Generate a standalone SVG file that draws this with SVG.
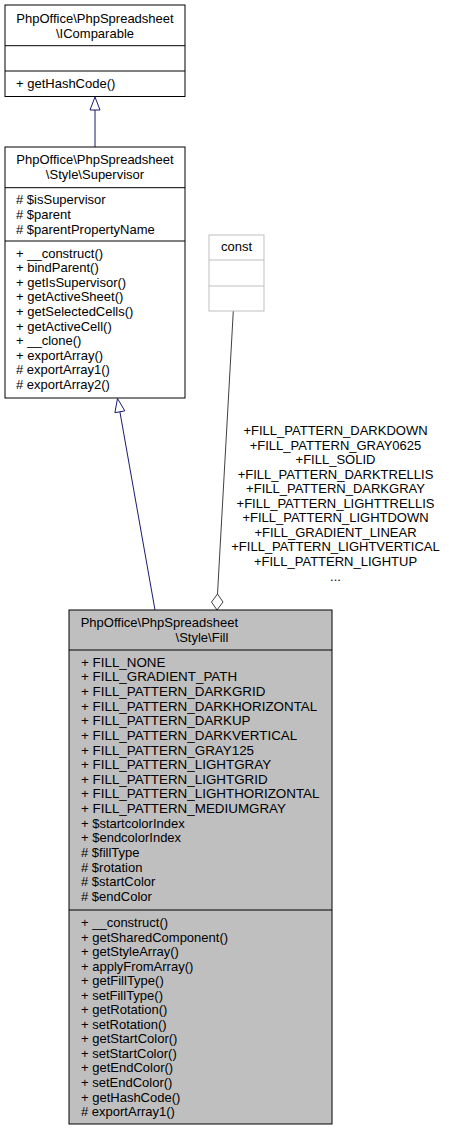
<svg xmlns="http://www.w3.org/2000/svg" width="449" height="1132" viewBox="0 0 449 1132">
<style>
text{font-family:"Liberation Sans",Arial,sans-serif;font-size:13px;fill:#000}
text.caps{font-size:13.4px}
.box{fill:#fff;stroke:#000;stroke-width:1}
.sep{stroke:#000;stroke-width:1}
.cbox{fill:#fff;stroke:#bfbfbf;stroke-width:1}
.csep{stroke:#bfbfbf;stroke-width:1}
.mid{text-anchor:middle}
.inh{stroke:#191970;stroke-width:1;fill:none}
.inhh{stroke:#191970;stroke-width:1;fill:#fff}
.agg{stroke:#404040;stroke-width:1;fill:none}
.aggh{stroke:#404040;stroke-width:1;fill:#fff}
</style>
<rect width="449" height="1132" fill="#fff"/>
<g id="connectors">
<line class="inh" x1="95" y1="147" x2="95" y2="110"/>
<polygon class="inhh" points="95,97 90,110 100,110"/>
<line class="inh" x1="155" y1="610" x2="119.9" y2="411.8"/>
<polygon class="inhh" points="117.5,398.5 124.8,410.9 114.9,412.7"/>
<line class="agg" x1="233.3" y1="311" x2="217.5" y2="594"/>
<polygon class="aggh" points="217.5,594 223,602 217,610 211.5,602"/>
<g id="edge-label">
<text class="mid" x="335.5" y="435">+FILL_PATTERN_DARKDOWN</text>
<text class="mid" x="335.5" y="449.55">+FILL_PATTERN_GRAY0625</text>
<text class="mid" x="335.5" y="464.1">+FILL_SOLID</text>
<text class="mid" x="335.5" y="478.65">+FILL_PATTERN_DARKTRELLIS</text>
<text class="mid" x="335.5" y="493.2">+FILL_PATTERN_DARKGRAY</text>
<text class="mid" x="335.5" y="507.75">+FILL_PATTERN_LIGHTTRELLIS</text>
<text class="mid" x="335.5" y="522.3">+FILL_PATTERN_LIGHTDOWN</text>
<text class="mid" x="335.5" y="536.85">+FILL_GRADIENT_LINEAR</text>
<text class="mid" x="335.5" y="551.4">+FILL_PATTERN_LIGHTVERTICAL</text>
<text class="mid" x="335.5" y="565.95">+FILL_PATTERN_LIGHTUP</text>
<text class="mid" x="335.5" y="580.5">...</text>
</g>
</g>
<g id="IComparable">
<rect class="box" x="5" y="5" width="180" height="91.5"/>
<line class="sep" x1="5" y1="45.7" x2="185" y2="45.7"/>
<line class="sep" x1="5" y1="71" x2="185" y2="71"/>
<text class="mid" x="95" y="23.3">PhpOffice\PhpSpreadsheet</text>
<text class="mid" x="95" y="38.3">\IComparable</text>
<text x="16" y="88">+ getHashCode()</text>
</g>
<g id="Supervisor">
<rect class="box" x="5" y="147" width="180" height="251"/>
<line class="sep" x1="5" y1="187.7" x2="185" y2="187.7"/>
<line class="sep" x1="5" y1="241" x2="185" y2="241"/>
<text class="mid" x="95" y="164.3">PhpOffice\PhpSpreadsheet</text>
<text class="mid" x="95" y="179.3">\Style\Supervisor</text>
<text x="16" y="204.3"># $isSupervisor</text>
<text x="16" y="218.9"># $parent</text>
<text x="16" y="233.5"># $parentPropertyName</text>
<text x="16" y="257.6">+ __construct()</text>
<text x="16" y="272.2">+ bindParent()</text>
<text x="16" y="286.8">+ getIsSupervisor()</text>
<text x="16" y="301.4">+ getActiveSheet()</text>
<text x="16" y="316">+ getSelectedCells()</text>
<text x="16" y="330.6">+ getActiveCell()</text>
<text x="16" y="345.2">+ __clone()</text>
<text x="16" y="359.8">+ exportArray()</text>
<text x="16" y="374.4"># exportArray1()</text>
<text x="16" y="389"># exportArray2()</text>
</g>
<g id="const">
<rect class="cbox" x="209" y="235" width="55" height="76"/>
<line class="csep" x1="209" y1="260" x2="264" y2="260"/>
<line class="csep" x1="209" y1="286" x2="264" y2="286"/>
<text class="mid" x="236.5" y="251">const</text>
</g>
<g id="Fill">
<rect x="69" y="610" width="263" height="514" fill="#bfbfbf" stroke="#000" stroke-width="1"/>
<line class="sep" x1="69" y1="650" x2="332" y2="650"/>
<line class="sep" x1="69" y1="910" x2="332" y2="910"/>
<text x="80.7" y="626.5">PhpOffice\PhpSpreadsheet</text>
<text x="228.3" y="641.5" text-anchor="end">\Style\Fill</text>
<text class="caps" x="81" y="666.6">+ FILL_NONE</text>
<text class="caps" x="81" y="681.25">+ FILL_GRADIENT_PATH</text>
<text class="caps" x="81" y="695.9">+ FILL_PATTERN_DARKGRID</text>
<text class="caps" x="81" y="710.55">+ FILL_PATTERN_DARKHORIZONTAL</text>
<text class="caps" x="81" y="725.2">+ FILL_PATTERN_DARKUP</text>
<text class="caps" x="81" y="739.85">+ FILL_PATTERN_DARKVERTICAL</text>
<text class="caps" x="81" y="754.5">+ FILL_PATTERN_GRAY125</text>
<text class="caps" x="81" y="769.15">+ FILL_PATTERN_LIGHTGRAY</text>
<text class="caps" x="81" y="783.8">+ FILL_PATTERN_LIGHTGRID</text>
<text class="caps" x="81" y="798.45">+ FILL_PATTERN_LIGHTHORIZONTAL</text>
<text class="caps" x="81" y="813.1">+ FILL_PATTERN_MEDIUMGRAY</text>
<text x="81" y="827.75">+ $startcolorIndex</text>
<text x="81" y="842.4">+ $endcolorIndex</text>
<text x="81" y="857.05"># $fillType</text>
<text x="81" y="871.7"># $rotation</text>
<text x="81" y="886.35"># $startColor</text>
<text x="81" y="901"># $endColor</text>
<text x="81" y="927">+ __construct()</text>
<text x="81" y="941.5">+ getSharedComponent()</text>
<text x="81" y="956.1">+ getStyleArray()</text>
<text x="81" y="970.6">+ applyFromArray()</text>
<text x="81" y="985.2">+ getFillType()</text>
<text x="81" y="999.7">+ setFillType()</text>
<text x="81" y="1014.2">+ getRotation()</text>
<text x="81" y="1028.8">+ setRotation()</text>
<text x="81" y="1043.3">+ getStartColor()</text>
<text x="81" y="1057.9">+ setStartColor()</text>
<text x="81" y="1072.4">+ getEndColor()</text>
<text x="81" y="1086.9">+ setEndColor()</text>
<text x="81" y="1101.5">+ getHashCode()</text>
<text x="81" y="1116"># exportArray1()</text>
</g>
</svg>
